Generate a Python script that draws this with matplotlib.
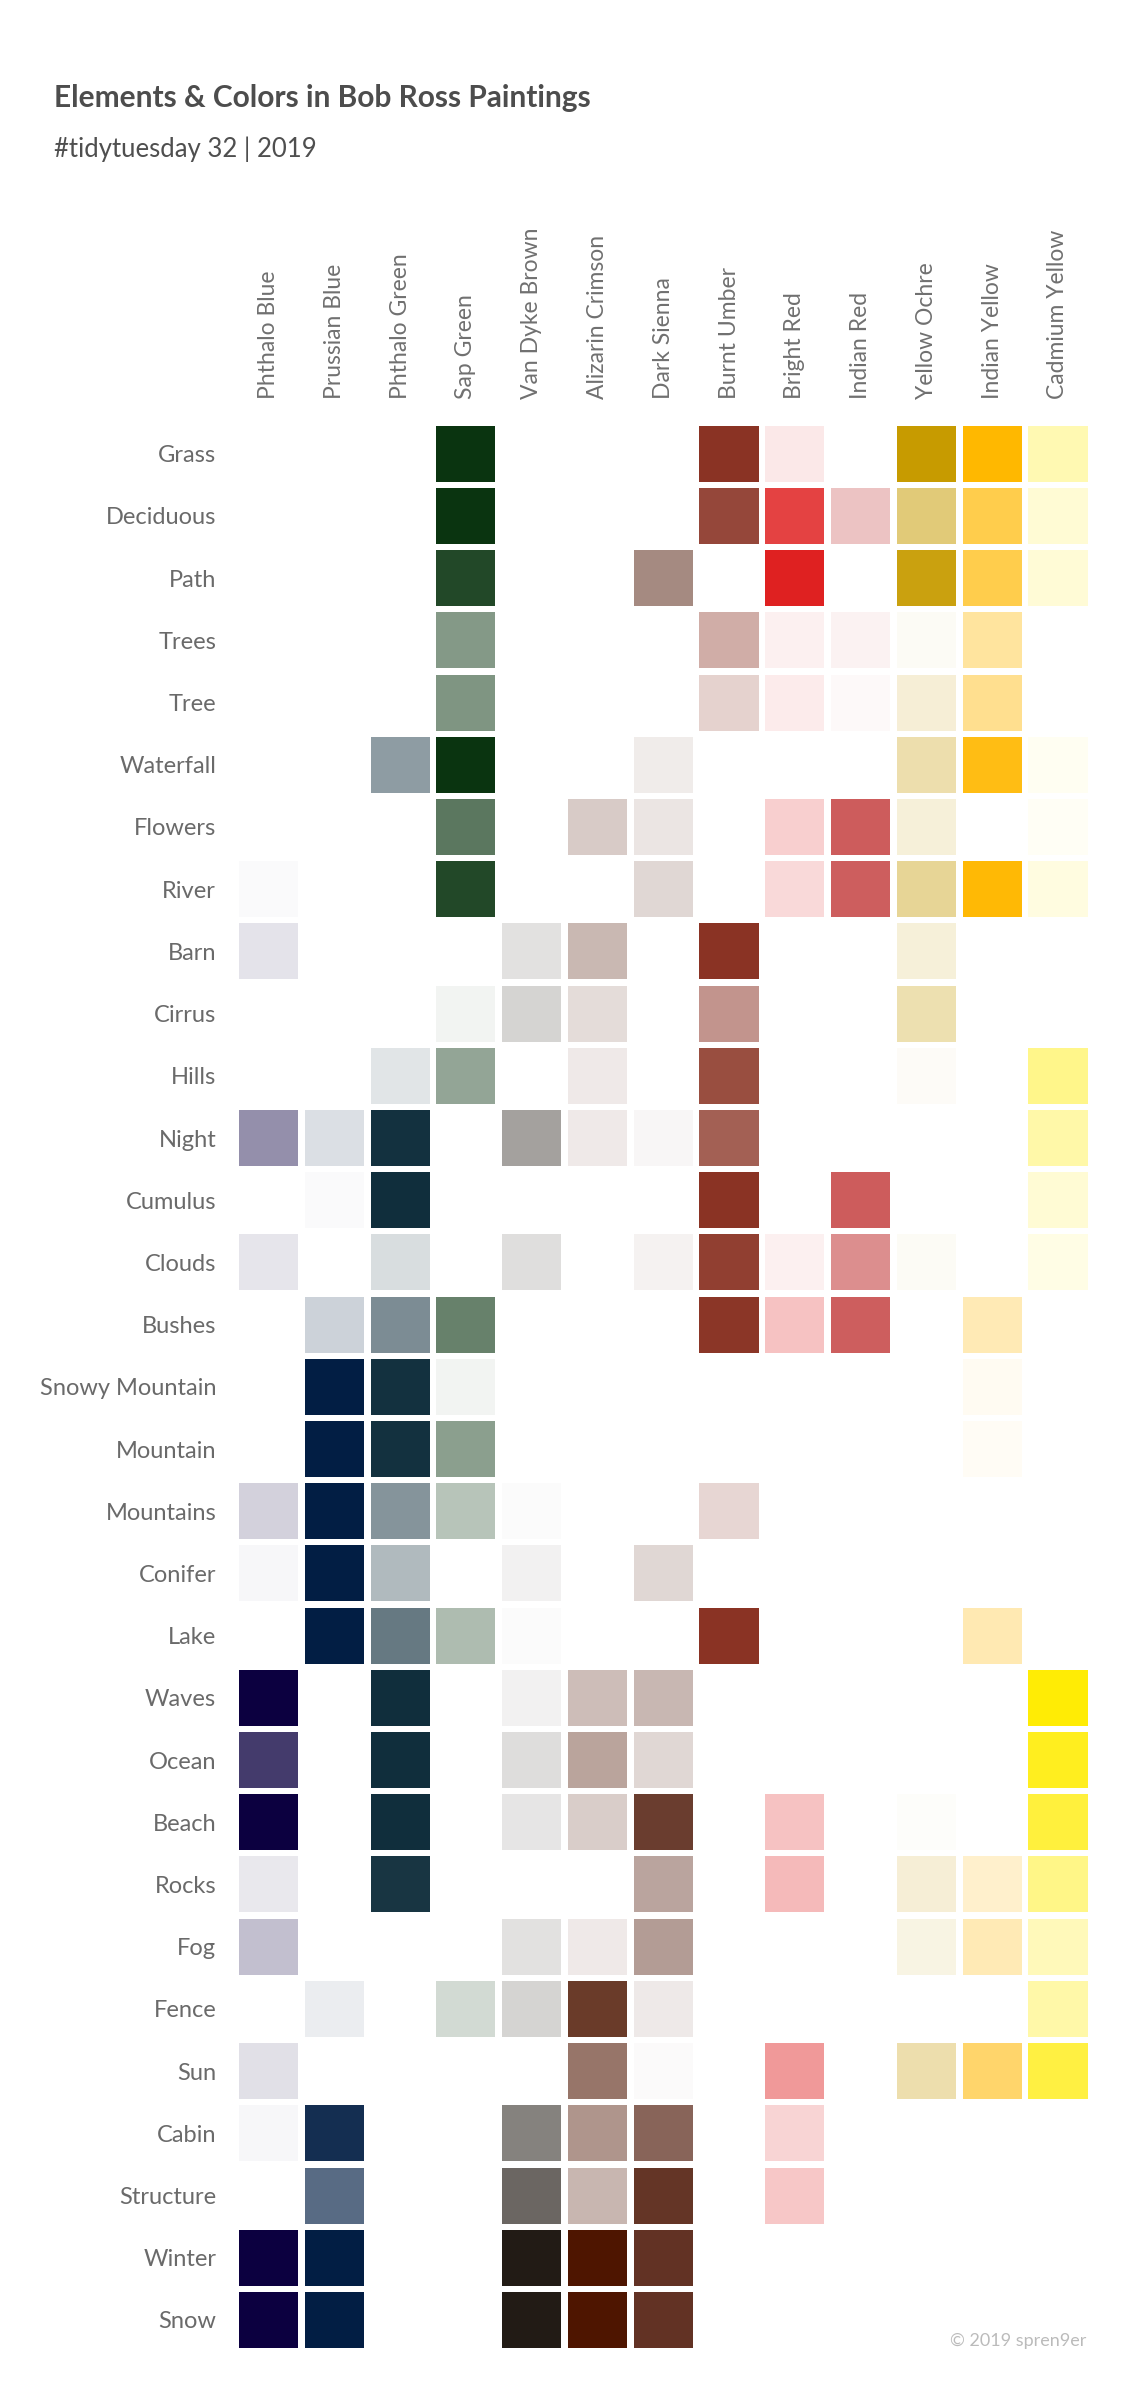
import numpy as np
import matplotlib.pyplot as plt
from matplotlib.colors import to_rgb

# paint colors (columns)
colors = ['Phthalo Blue', 'Prussian Blue', 'Phthalo Green', 'Sap Green', 'Van Dyke Brown',
          'Alizarin Crimson', 'Dark Sienna', 'Burnt Umber', 'Bright Red', 'Indian Red',
          'Yellow Ochre', 'Indian Yellow', 'Cadmium Yellow']
hexes = ['#0C0040', '#021E44', '#102E3C', '#0A3410', '#221B15', '#4E1500', '#5F2E1F',
         '#8A3324', '#DB0000', '#CD5C5C', '#C79B00', '#FFB800', '#FFEC00']

# painting elements (rows, top to bottom)
elements = ['Grass', 'Deciduous', 'Path', 'Trees', 'Tree', 'Waterfall', 'Flowers', 'River',
            'Barn', 'Cirrus', 'Hills', 'Night', 'Cumulus', 'Clouds', 'Bushes',
            'Snowy Mountain', 'Mountain', 'Mountains', 'Conifer', 'Lake', 'Waves', 'Ocean',
            'Beach', 'Rocks', 'Fog', 'Fence', 'Sun', 'Cabin', 'Structure', 'Winter', 'Snow']

N = None
# share of paintings with the element that use the color
share = [
    [N, N, N, 1.00, N, N, N, 1.00, 0.09, N, 1.00, 1.00, 0.30],      # Grass
    [N, N, N, 1.00, N, N, N, 0.90, 0.74, 0.37, 0.53, 0.70, 0.17],   # Deciduous
    [N, N, N, 0.90, N, N, 0.56, N, 0.87, N, 0.94, 0.70, 0.16],      # Path
    [N, N, N, 0.50, N, N, N, 0.40, 0.06, 0.08, 0.04, 0.38, N],      # Trees
    [N, N, N, 0.52, N, N, N, 0.22, 0.08, 0.03, 0.16, 0.44, N],      # Tree
    [N, N, 0.47, 1.00, N, N, 0.09, N, N, N, 0.32, 0.92, 0.05],      # Waterfall
    [N, N, N, 0.67, N, 0.22, 0.12, N, 0.19, 1.00, 0.15, N, 0.04],   # Flowers
    [0.02, N, N, 0.90, N, N, 0.19, N, 0.15, 0.99, 0.41, 0.98, 0.12],  # River
    [0.11, N, N, N, 0.13, 0.30, N, 1.00, N, N, 0.15, N, N],         # Barn
    [N, N, N, 0.05, 0.19, 0.15, N, 0.52, N, N, 0.31, N, N],         # Cirrus
    [N, N, 0.12, 0.44, N, 0.09, N, 0.87, N, N, 0.03, N, 0.46],      # Hills
    [0.44, 0.14, 0.99, N, 0.41, 0.09, 0.04, 0.78, N, N, N, N, 0.34],  # Night
    [N, 0.02, 1.00, N, N, N, N, 1.00, N, 1.00, N, N, 0.17],         # Cumulus
    [0.10, N, 0.16, N, 0.14, N, 0.06, 0.94, 0.06, 0.69, 0.04, N, 0.10],  # Clouds
    [N, 0.20, 0.55, 0.62, N, N, N, 0.99, 0.24, 0.99, N, 0.29, N],   # Bushes
    [N, 1.00, 0.99, 0.05, N, N, N, N, N, N, N, 0.05, N],            # Snowy Mountain
    [N, 1.00, 0.99, 0.47, N, N, N, N, N, N, N, 0.04, N],            # Mountain
    [0.18, 1.00, 0.51, 0.29, 0.015, N, N, 0.20, N, N, N, N, N],     # Mountains
    [0.03, 1.00, 0.33, N, 0.06, N, 0.19, N, N, N, N, N, N],         # Conifer
    [N, 1.00, 0.64, 0.33, 0.015, N, N, 1.00, N, N, N, 0.30, N],     # Lake
    [1.00, N, 1.00, N, 0.06, 0.28, 0.34, N, N, N, N, N, 0.98],      # Waves
    [0.77, N, 1.00, N, 0.15, 0.39, 0.19, N, N, N, N, N, 0.88],      # Ocean
    [1.00, N, 1.00, N, 0.11, 0.21, 0.93, N, 0.24, N, 0.02, N, 0.76],  # Beach
    [0.09, N, 0.97, N, N, N, 0.43, N, 0.27, N, 0.16, 0.20, 0.47],   # Rocks
    [0.25, N, N, N, 0.13, 0.09, 0.47, N, N, N, 0.11, 0.29, 0.27],   # Fog
    [N, 0.08, N, 0.18, 0.19, 0.84, 0.10, N, N, N, N, N, 0.34],      # Fence
    [0.12, N, N, N, N, 0.59, 0.02, N, 0.40, N, 0.32, 0.58, 0.74],   # Sun
    [0.03, 0.93, N, N, 0.55, 0.45, 0.74, N, 0.17, N, N, N, N],      # Cabin
    [N, 0.66, N, N, 0.67, 0.31, 0.97, N, 0.22, N, N, N, N],         # Structure
    [1.00, 1.00, N, N, 1.00, 1.00, 0.98, N, N, N, N, N, N],         # Winter
    [1.00, 1.00, N, N, 1.00, 1.00, 0.98, N, N, N, N, N, N],         # Snow
]

plt.rcParams['font.family'] = ['Lato', 'DejaVu Sans']

fig = plt.figure(figsize=(11.4, 24), dpi=100)
ax = fig.add_axes([0.2067, 0.0204, 0.7502, 0.8035])

for i, row in enumerate(share):
    for j, val in enumerate(row):
        if val is None:
            continue
        r, g, b = to_rgb(hexes[j])
        ax.bar(j, 0.9, bottom=i - 0.45, width=0.9, color=(r, g, b, val), linewidth=0)

ax.set_xlim(-0.5, len(colors) - 0.5)
ax.set_ylim(len(elements) - 0.5, -0.5)
for s in ax.spines.values():
    s.set_visible(False)
ax.set_xticks(range(len(colors)))
ax.set_xticklabels(colors, rotation=90, fontsize=16.5, color='#707070')
ax.xaxis.tick_top()
ax.set_yticks(range(len(elements)))
ax.set_yticklabels(elements, fontsize=17, color='#6a6a6a')
ax.tick_params(length=0, pad=14)
ax.tick_params(axis='x', pad=17)

fig.text(0.047, 0.9555, 'Elements & Colors in Bob Ross Paintings', fontsize=21.5,
         fontweight='bold', color='#4d4d4d', va='baseline')
fig.text(0.047, 0.9345, '#tidytuesday 32 | 2019', fontsize=18.5,
         color='#4f4f4f', va='baseline')
fig.text(0.953, 0.0245, '\u00a9 2019 spren9er', fontsize=13,
         color='#bbbbbb', ha='right', va='center')

fig.savefig('out.png', dpi=100, facecolor='white')
